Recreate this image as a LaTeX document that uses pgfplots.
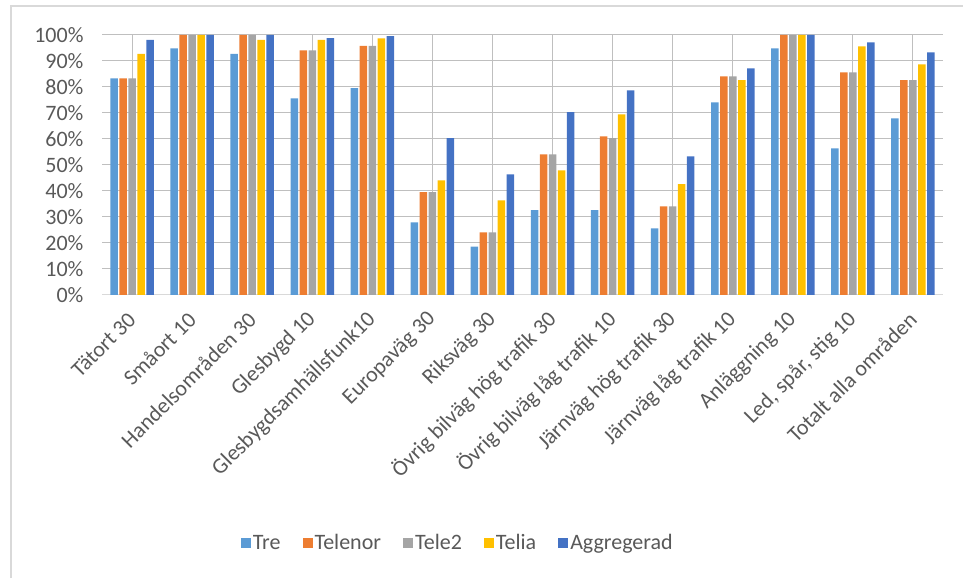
\documentclass[border=0pt]{standalone}
\usepackage{pgfplots}
\pgfplotsset{compat=1.18}
\usepackage{fontspec}
\setmainfont{Carlito}
\definecolor{cTre}{HTML}{5B9BD5}
\definecolor{cTelenor}{HTML}{ED7D31}
\definecolor{cTele}{HTML}{A5A5A5}
\definecolor{cTelia}{HTML}{FFC000}
\definecolor{cAgg}{HTML}{4472C4}
\definecolor{txt}{HTML}{595959}
\definecolor{grid}{HTML}{D9D9D9}
\begin{document}
\begin{tikzpicture}[x=1pt,y=1pt]
\path[use as bounding box] (0,0) rectangle (963,578);
\draw[grid, line width=1.5pt] (11,0) -- (11,572) -- (963,572);
\begin{axis}[
  at={(102pt,283pt)}, anchor=south west,
  scale only axis, width=841pt, height=260pt,
  ybar=1.5pt, bar width=7.5pt,
  xmin=-0.5, xmax=13.5, ymin=0, ymax=100,
  xtick=data,
  xticklabels={Tätort 30,Småort 10,Handelsområden 30,Glesbygd 10,Glesbygdsamhällsfunk10,Europaväg 30,Riksväg 30,Övrig bilväg hög trafik 30,Övrig bilväg låg trafik 10,Järnväg hög trafik 30,Järnväg låg trafik 10,Anläggning 10,{Led, spår, stig 10},Totalt alla områden},
  ytick={0,10,...,100},
  yticklabel={\pgfmathprintnumber{\tick}\%},
  /pgf/number format/assume math mode=true,
  ymajorgrids, major grid style={grid, line width=1pt},
  axis line style={draw=none},
  axis x line*=bottom, axis y line*=left,
  x axis line style={draw=grid, line width=1pt},
  major tick length=0pt,
  tick label style={font=\fontsize{22}{26}\selectfont, text=txt},
  xticklabel style={rotate=45, anchor=east, inner sep=0pt},
  xticklabel shift=21pt,
  yticklabel style={xshift=-15pt},
  legend columns=5,
  legend style={draw=none, at={(0.423,-0.954)}, anchor=center,
    font=\fontsize{22}{26}\selectfont, text=txt,
    /tikz/every even column/.append style={column sep=20pt}},
  legend image code/.code={\path[#1] (0pt,-5pt) rectangle (10pt,5pt);},
]
\addplot[fill=cTre, draw=none] coordinates {(0,83.3)(1,94.9)(2,92.7)(3,75.6)(4,79.6)(5,27.9)(6,18.6)(7,32.6)(8,32.6)(9,25.6)(10,74.1)(11,94.9)(12,56.4)(13,67.9)};
\addplot[fill=cTelenor, draw=none] coordinates {(0,83.3)(1,100)(2,100)(3,94.1)(4,95.8)(5,39.6)(6,24.1)(7,54.1)(8,61.0)(9,34.1)(10,84.1)(11,100)(12,85.6)(13,82.6)};
\addplot[fill=cTele, draw=none] coordinates {(0,83.3)(1,100)(2,100)(3,94.1)(4,95.8)(5,39.6)(6,24.1)(7,54.1)(8,60.3)(9,34.1)(10,84.1)(11,100)(12,85.6)(13,82.6)};
\addplot[fill=cTelia, draw=none] coordinates {(0,92.7)(1,100)(2,98.1)(3,98.1)(4,98.7)(5,44.1)(6,36.4)(7,47.9)(8,69.5)(9,42.6)(10,82.6)(11,100)(12,95.6)(13,88.7)};
\addplot[fill=cAgg, draw=none] coordinates {(0,98.1)(1,100)(2,100)(3,98.8)(4,99.6)(5,60.3)(6,46.4)(7,70.3)(8,78.7)(9,53.3)(10,87.2)(11,100)(12,97.2)(13,93.3)};
\legend{Tre,Telenor,Tele2,Telia,Aggregerad}
\end{axis}
\end{tikzpicture}
\end{document}
